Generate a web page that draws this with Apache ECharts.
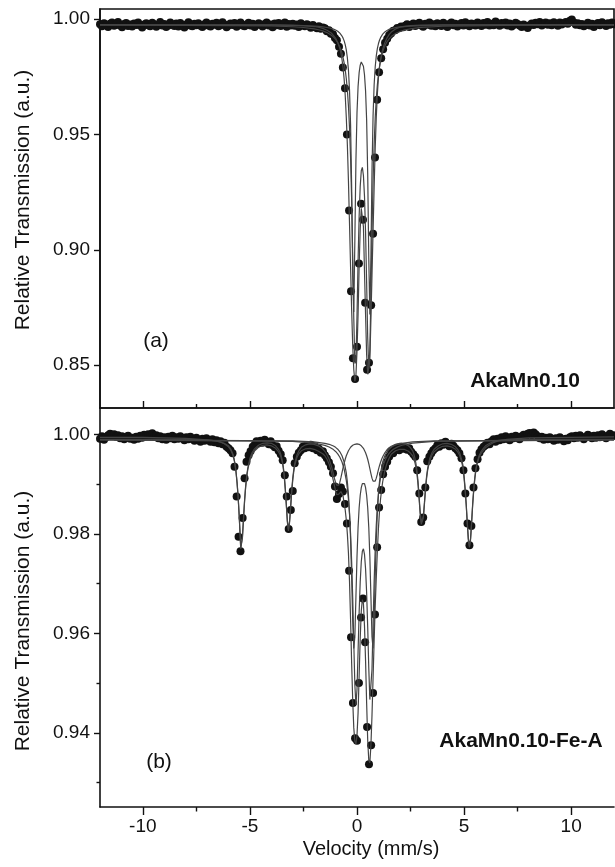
<!DOCTYPE html>
<html><head><meta charset="utf-8">
<script src="https://cdn.jsdelivr.net/npm/echarts@6/dist/echarts.min.js"></script>
<style>html,body{margin:0;padding:0;background:#fff}#chart{width:615px;height:867px}</style>
</head><body><div id="chart"></div>
<script>
// channel velocities (mm/s)
const velocity = [
-12,-11.91,-11.81,-11.72,-11.62,-11.53,-11.44,-11.34,
-11.25,-11.16,-11.06,-10.97,-10.87,-10.78,-10.69,-10.59,
-10.5,-10.41,-10.31,-10.22,-10.12,-10.03,-9.94,-9.84,
-9.75,-9.66,-9.56,-9.47,-9.37,-9.28,-9.19,-9.09,
-9,-8.91,-8.81,-8.72,-8.62,-8.53,-8.44,-8.34,
-8.25,-8.16,-8.06,-7.97,-7.87,-7.78,-7.69,-7.59,
-7.5,-7.41,-7.31,-7.22,-7.12,-7.03,-6.94,-6.84,
-6.75,-6.66,-6.56,-6.47,-6.37,-6.28,-6.19,-6.09,
-6,-5.91,-5.81,-5.72,-5.62,-5.53,-5.44,-5.34,
-5.25,-5.16,-5.06,-4.97,-4.87,-4.78,-4.69,-4.59,
-4.5,-4.41,-4.31,-4.22,-4.12,-4.03,-3.94,-3.84,
-3.75,-3.66,-3.56,-3.47,-3.37,-3.28,-3.19,-3.09,
-3,-2.91,-2.81,-2.72,-2.62,-2.53,-2.44,-2.34,
-2.25,-2.16,-2.06,-1.97,-1.87,-1.78,-1.69,-1.59,
-1.5,-1.41,-1.31,-1.22,-1.12,-1.03,-0.94,-0.84,
-0.75,-0.66,-0.56,-0.47,-0.37,-0.28,-0.19,-0.09,
0,0.09,0.19,0.28,0.38,0.47,0.56,0.66,
0.75,0.84,0.94,1.03,1.13,1.22,1.31,1.41,
1.5,1.59,1.69,1.78,1.88,1.97,2.06,2.16,
2.25,2.34,2.44,2.53,2.63,2.72,2.81,2.91,
3,3.09,3.19,3.28,3.38,3.47,3.56,3.66,
3.75,3.84,3.94,4.03,4.13,4.22,4.31,4.41,
4.5,4.59,4.69,4.78,4.88,4.97,5.06,5.16,
5.25,5.34,5.44,5.53,5.63,5.72,5.81,5.91,
6,6.09,6.19,6.28,6.38,6.47,6.56,6.66,
6.75,6.84,6.94,7.03,7.13,7.22,7.31,7.41,
7.5,7.59,7.69,7.78,7.88,7.97,8.06,8.16,
8.25,8.34,8.44,8.53,8.63,8.72,8.81,8.91,
9,9.09,9.19,9.28,9.38,9.47,9.56,9.66,
9.75,9.84,9.94,10.03,10.13,10.22,10.31,10.41,
10.5,10.59,10.69,10.78,10.88,10.97,11.06,11.16,
11.25,11.34,11.44,11.53,11.63,11.72,11.81,11.91,
12];

// (a) AkaMn0.10 measured transmission
const transmissionA = [
0.9978,0.9969,0.9982,0.9974,0.9966,0.9980,0.9985,0.9971,
0.9976,0.9988,0.9973,0.9965,0.9979,0.9983,0.9970,0.9977,
0.9968,0.9981,0.9975,0.9986,0.9972,0.9964,0.9977,0.9982,
0.9974,0.9969,0.9984,0.9978,0.9967,0.9975,0.9988,0.9972,
0.9979,0.9966,0.9973,0.9985,0.9976,0.9970,0.9981,0.9968,
0.9983,0.9975,0.9964,0.9977,0.9987,0.9972,0.9969,0.9980,
0.9974,0.9982,0.9971,0.9966,0.9978,0.9985,0.9973,0.9968,
0.9980,0.9976,0.9984,0.9969,0.9974,0.9987,0.9977,0.9965,
0.9972,0.9981,0.9975,0.9983,0.9967,0.9978,0.9986,0.9973,
0.9969,0.9977,0.9984,0.9972,0.9980,0.9966,0.9975,0.9982,
0.9976,0.9968,0.9979,0.9986,0.9973,0.9977,0.9965,0.9981,
0.9974,0.9983,0.9970,0.9976,0.9985,0.9967,0.9979,0.9972,
0.9980,0.9971,0.9977,0.9966,0.9982,0.9974,0.9969,0.9978,
0.9972,0.9963,0.9975,0.9966,0.9960,0.9969,0.9958,0.9964,
0.9960,0.9948,0.9952,0.9937,0.9935,0.9918,0.9908,0.9880,
0.9850,0.9790,0.9700,0.9500,0.9170,0.8820,0.8530,0.8440,
0.8580,0.8940,0.9200,0.9130,0.8770,0.8480,0.8510,0.8760,
0.9070,0.9400,0.9650,0.9770,0.9830,0.9870,0.9898,0.9915,
0.9930,0.9938,0.9950,0.9952,0.9962,0.9960,0.9968,0.9965,
0.9971,0.9978,0.9966,0.9975,0.9981,0.9970,0.9977,0.9984,
0.9973,0.9967,0.9980,0.9976,0.9985,0.9971,0.9978,0.9969,
0.9982,0.9975,0.9970,0.9984,0.9977,0.9966,0.9979,0.9986,
0.9974,0.9980,0.9968,0.9977,0.9983,0.9972,0.9987,0.9976,
0.9969,0.9981,0.9978,0.9973,0.9985,0.9977,0.9970,0.9983,
0.9976,0.9988,0.9972,0.9980,0.9974,0.9990,0.9979,0.9971,
0.9983,0.9977,0.9986,0.9973,0.9981,0.9968,0.9975,0.9984,
0.9979,0.9972,0.9966,0.9977,0.9970,0.9962,0.9974,0.9981,
0.9975,0.9984,0.9978,0.9988,0.9973,0.9980,0.9986,0.9976,
0.9982,0.9974,0.9987,0.9979,0.9971,0.9985,0.9977,0.9983,
0.9988,0.9980,0.9993,0.9998,0.9985,0.9976,0.9982,0.9974,
0.9979,0.9969,0.9975,0.9984,0.9972,0.9980,0.9966,0.9977,
0.9983,0.9974,0.9987,0.9979,0.9970,0.9982,0.9976,0.9985,
0.9978];

// (b) AkaMn0.10-Fe-A measured transmission
const transmissionB = [
0.9991,0.9996,0.9989,0.9994,0.9998,1.0001,0.9997,1.0000,
0.9995,0.9998,0.9992,0.9996,0.9990,0.9994,0.9997,0.9991,
0.9993,0.9989,0.9995,0.9991,0.9997,0.9993,0.9999,0.9996,
1.0000,0.9997,1.0002,0.9995,0.9998,0.9992,0.9996,0.9990,
0.9994,0.9989,0.9995,0.9992,0.9997,0.9990,0.9994,0.9991,
0.9996,0.9992,0.9988,0.9994,0.9990,0.9995,0.9991,0.9987,
0.9993,0.9989,0.9985,0.9991,0.9987,0.9992,0.9988,0.9985,
0.9990,0.9984,0.9988,0.9982,0.9986,0.9980,0.9983,0.9975,
0.9972,0.9968,0.9962,0.9935,0.9875,0.9794,0.9765,0.9832,
0.9912,0.9945,0.9958,0.9966,0.9975,0.9979,0.9986,0.9982,
0.9987,0.9983,0.9989,0.9984,0.9980,0.9986,0.9978,0.9974,
0.9976,0.9967,0.9960,0.9948,0.9918,0.9875,0.9810,0.9848,
0.9886,0.9942,0.9955,0.9963,0.9968,0.9975,0.9972,0.9978,
0.9974,0.9979,0.9972,0.9976,0.9968,0.9971,0.9963,0.9966,
0.9958,0.9952,0.9944,0.9935,0.9922,0.9895,0.9870,0.9880,
0.9893,0.9885,0.9860,0.9821,0.9726,0.9592,0.9460,0.9389,
0.9384,0.9500,0.9632,0.9670,0.9582,0.9412,0.9337,0.9375,
0.9480,0.9638,0.9773,0.9853,0.9888,0.9920,0.9935,0.9945,
0.9955,0.9966,0.9962,0.9970,0.9973,0.9968,0.9975,0.9971,
0.9974,0.9969,0.9972,0.9965,0.9960,0.9955,0.9928,0.9881,
0.9824,0.9833,0.9893,0.9946,0.9955,0.9962,0.9968,0.9972,
0.9978,0.9975,0.9982,0.9979,0.9985,0.9980,0.9976,0.9981,
0.9977,0.9972,0.9968,0.9962,0.9952,0.9928,0.9881,0.9821,
0.9777,0.9816,0.9893,0.9932,0.9950,0.9963,0.9970,0.9975,
0.9978,0.9983,0.9980,0.9986,0.9990,0.9985,0.9991,0.9988,
0.9994,0.9990,0.9996,0.9991,0.9988,0.9995,0.9992,0.9997,
0.9993,0.9990,0.9996,0.9999,0.9995,1.0001,1.0003,0.9998,
1.0004,1.0000,0.9996,0.9992,0.9995,0.9989,0.9993,0.9990,
0.9994,0.9991,0.9987,0.9992,0.9989,0.9994,0.9990,0.9986,
0.9991,0.9988,0.9994,0.9996,0.9992,0.9997,0.9993,0.9998,
0.9994,0.9990,0.9995,0.9999,0.9996,0.9992,0.9997,0.9993,
0.9998,0.9994,1.0000,0.9996,0.9992,0.9997,1.0001,0.9996,
0.9998];

// (a) fitted curves
const fitVelocityA = [
-12,-4,-3,-2.5,-2,-1.8,-1.6,-1.4,-1.2,-1.1,
-1.0,-0.9,-0.8,-0.75,-0.7,-0.65,-0.6,-0.55,-0.5,-0.45,
-0.4,-0.35,-0.3,-0.25,-0.2,-0.15,-0.1,-0.05,0,0.05,
0.1,0.15,0.2,0.25,0.3,0.35,0.4,0.45,0.5,0.55,
0.6,0.65,0.7,0.75,0.8,0.85,0.9,0.95,1.0,1.05,
1.1,1.15,1.2,1.25,1.3,1.4,1.5,1.6,1.8,2.0,
2.2,2.5,3,4,8,12];
const fitTotalA = [
0.9975,0.9975,0.9974,0.9972,0.9968,0.9965,0.9960,0.9952,0.9940,0.9930,
0.9918,0.9898,0.9872,0.9852,0.9825,0.9788,0.9740,0.9670,0.9575,0.9455,
0.9300,0.9115,0.8925,0.8740,0.8585,0.8480,0.8430,0.8455,0.8560,0.8720,
0.8930,0.9090,0.9180,0.9185,0.9100,0.8905,0.8720,0.8545,0.8460,0.8455,
0.8520,0.8700,0.8890,0.9080,0.9270,0.9440,0.9575,0.9675,0.9745,0.9792,
0.9825,0.9850,0.9870,0.9885,0.9898,0.9918,0.9933,0.9944,0.9957,0.9965,
0.9969,0.9972,0.9974,0.9975,0.9975,0.9975];
const fitDoublet1A = [
0.9975,0.9974,0.99725,0.99715,0.99695,0.99683,0.99665,0.99639,0.99598,0.99569,
0.99529,0.99475,0.99393,0.99338,0.99268,0.99177,0.99058,0.98895,0.98666,0.98326,
0.97801,0.96934,0.95427,0.92757,0.88914,0.87307,0.90426,0.93876,0.95946,0.97073,
0.97683,0.98004,0.9814,0.98125,0.97958,0.9759,0.96898,0.95626,0.93298,0.8963,
0.8719,0.89685,0.93411,0.95803,0.97148,0.97927,0.98406,0.98719,0.98932,0.99084,
0.99197,0.99283,0.9935,0.99403,0.99445,0.99509,0.99555,0.99588,0.99633,0.99661,
0.9968,0.99698,0.99717,0.99738,0.9975,0.9975];
const fitDoublet2A = [
0.9975,0.99704,0.9967,0.99638,0.99579,0.99541,0.9949,0.99417,0.99305,0.99226,
0.99124,0.98986,0.98795,0.98671,0.98521,0.98335,0.98104,0.9781,0.97427,0.96923,
0.96243,0.95304,0.93989,0.92159,0.8974,0.87021,0.85075,0.85162,0.87107,0.89516,
0.91466,0.9275,0.93426,0.93576,0.93222,0.92315,0.90766,0.88575,0.86192,0.84847,
0.85662,0.88095,0.9077,0.92961,0.94569,0.95718,0.96541,0.97143,0.97593,0.97937,
0.98203,0.98416,0.98585,0.98725,0.9884,0.99016,0.99147,0.99245,0.99379,0.99466,
0.99525,0.99583,0.99641,0.99693,0.99737,0.9975];

// (b) fitted curves: total and sextet
const fitVelocityB = [
-12,-10,-8,-7,-6.6,-6.4,-6.2,-6.0,-5.9,-5.8,
-5.75,-5.7,-5.65,-5.6,-5.55,-5.5,-5.45,-5.43,-5.4,-5.35,
-5.3,-5.25,-5.2,-5.15,-5.1,-5.0,-4.9,-4.8,-4.6,-4.4,
-4.2,-4.0,-3.8,-3.7,-3.6,-3.55,-3.5,-3.45,-3.4,-3.35,
-3.3,-3.25,-3.2,-3.15,-3.1,-3.05,-3.0,-2.95,-2.9,-2.8,
-2.7,-2.6,-2.4,-2.2,-2.0,-1.8,-1.6,-1.5,-1.4,-1.3,
-1.2,-1.15,-1.1,-1.05,-1.0,-0.95,-0.9,-0.85,-0.8,-0.75,
-0.7,-0.65,-0.6,-0.55,-0.5,-0.45,-0.4,-0.35,-0.3,-0.25,
-0.2,-0.15,-0.1,-0.05,0,0.05,0.1,0.15,0.2,0.25,
0.3,0.35,0.4,0.45,0.5,0.55,0.6,0.65,0.7,0.75,
0.8,0.85,0.9,0.95,1.0,1.05,1.1,1.15,1.2,1.3,
1.4,1.5,1.6,1.8,2.0,2.2,2.4,2.5,2.6,2.65,
2.7,2.75,2.8,2.85,2.9,2.95,3.0,3.03,3.05,3.1,
3.15,3.2,3.25,3.3,3.4,3.5,3.6,3.8,4.0,4.2,
4.4,4.6,4.7,4.8,4.9,4.95,5.0,5.05,5.1,5.15,
5.2,5.25,5.3,5.35,5.4,5.45,5.5,5.55,5.6,5.7,
5.8,5.9,6.0,6.2,6.4,6.6,7,8,10,12];
const fitTotalB = [
0.9994,0.9994,0.9992,0.9989,0.9987,0.9985,0.9981,0.9975,0.9969,0.9959,
0.9951,0.9940,0.9924,0.9902,0.9873,0.9835,0.9790,0.9770,0.9768,0.9792,
0.9829,0.9865,0.9893,0.9914,0.9929,0.9948,0.9959,0.9966,0.9974,0.9978,
0.9979,0.9977,0.9972,0.9967,0.9960,0.9954,0.9946,0.9934,0.9916,0.9890,
0.9857,0.9823,0.9806,0.9822,0.9851,0.9883,0.9908,0.9926,0.9939,0.9954,
0.9962,0.9967,0.9971,0.9972,0.9970,0.9966,0.9961,0.9957,0.9950,0.9940,
0.9926,0.9916,0.9906,0.9896,0.9886,0.9879,0.9877,0.9880,0.9884,0.9885,
0.9883,0.9876,0.9862,0.9848,0.9828,0.9800,0.9762,0.9705,0.9628,0.9540,
0.9465,0.9410,0.9383,0.9378,0.9395,0.9440,0.9515,0.9590,0.9645,0.9668,
0.9660,0.9615,0.9545,0.9460,0.9385,0.9345,0.9340,0.9375,0.9435,0.9510,
0.9585,0.9655,0.9712,0.9765,0.9810,0.9845,0.9870,0.9889,0.9905,0.9927,
0.9942,0.9952,0.9960,0.9967,0.9970,0.9970,0.9966,0.9962,0.9957,0.9951,
0.9944,0.9934,0.9920,0.9899,0.9870,0.9840,0.9819,0.9815,0.9816,0.9832,
0.9860,0.9889,0.9912,0.9928,0.9947,0.9958,0.9965,0.9972,0.9976,0.9977,
0.9975,0.9970,0.9965,0.9957,0.9942,0.9932,0.9912,0.9887,0.9857,0.9820,
0.9787,0.9773,0.9787,0.9820,0.9857,0.9887,0.9910,0.9927,0.9939,0.9954,
0.9962,0.9968,0.9973,0.9979,0.9984,0.9987,0.9990,0.9993,0.9994,0.9995];
const fitSextetB = [
0.9990,0.9990,0.9990,0.9989,0.9987,0.9985,0.9982,0.9977,0.9971,0.9961,
0.9953,0.9942,0.9926,0.9904,0.9875,0.9837,0.9792,0.9772,0.9770,0.9794,
0.9831,0.9867,0.9896,0.9917,0.9932,0.9952,0.9963,0.9970,0.9978,0.9982,
0.9983,0.9982,0.9977,0.9972,0.9965,0.9959,0.9950,0.9938,0.9920,0.9893,
0.9860,0.9826,0.9809,0.9825,0.9855,0.9887,0.9912,0.9930,0.9943,0.9959,
0.9968,0.9974,0.9979,0.9981,0.9980,0.9977,0.9971,0.9966,0.9959,0.9950,
0.9937,0.9929,0.9920,0.9911,0.9903,0.9898,0.9896,0.9898,0.9904,0.9913,
0.9923,0.9933,0.9942,0.9950,0.9957,0.9962,0.9967,0.9971,0.9974,0.9976,
0.9978,0.9979,0.9980,0.9981,0.9981,0.9981,0.9980,0.9979,0.9977,0.9975,
0.9972,0.9968,0.9963,0.9957,0.9950,0.9941,0.9931,0.9921,0.9912,0.9906,
0.9904,0.9906,0.9912,0.9920,0.9929,0.9937,0.9944,0.9950,0.9955,0.9963,
0.9969,0.9973,0.9976,0.9980,0.9982,0.9981,0.9977,0.9973,0.9967,0.9961,
0.9953,0.9942,0.9927,0.9905,0.9875,0.9845,0.9823,0.9819,0.9820,0.9836,
0.9864,0.9893,0.9916,0.9932,0.9952,0.9963,0.9970,0.9977,0.9981,0.9982,
0.9980,0.9975,0.9970,0.9962,0.9947,0.9937,0.9916,0.9891,0.9860,0.9823,
0.9790,0.9776,0.9790,0.9823,0.9860,0.9890,0.9913,0.9930,0.9942,0.9957,
0.9966,0.9972,0.9977,0.9982,0.9986,0.9988,0.9989,0.9990,0.9990,0.9990];

// (b) fitted curves: doublets
const doubletVelocityB = [
-12,-3,-2,-1.5,-1.3,-1.1,-1.0,-0.9,-0.8,-0.7,
-0.6,-0.5,-0.45,-0.4,-0.35,-0.3,-0.25,-0.2,-0.15,-0.1,
-0.05,0,0.05,0.1,0.15,0.2,0.25,0.3,0.35,0.4,
0.45,0.5,0.55,0.6,0.65,0.7,0.75,0.8,0.85,0.9,
0.95,1.0,1.05,1.1,1.2,1.3,1.4,1.5,1.6,1.7,
1.9,2.1,2.6,3.6,12];
const fitDoublet1B = [
0.9989,0.9987,0.9985,0.9982,0.9980,0.99765,0.99739,0.99702,0.9965,0.99571,
0.99446,0.99224,0.99047,0.98795,0.98428,0.97888,0.97133,0.96254,0.95695,0.95933,
0.96734,0.97539,0.98131,0.98524,0.98776,0.98928,0.9901,0.99037,0.9901,0.98928,
0.98776,0.98524,0.98131,0.97539,0.96734,0.95933,0.95695,0.96254,0.97133,0.97888,
0.98428,0.98795,0.99047,0.99224,0.99446,0.99571,0.9965,0.99702,0.99739,0.99765,
0.9980,0.9982,0.9985,0.9987,0.9989];
const fitDoublet2B = [
0.9989,0.99859,0.99824,0.99778,0.99745,0.99694,0.99657,0.99607,0.9954,0.99444,
0.99301,0.99076,0.98915,0.98697,0.98402,0.98004,0.97449,0.96715,0.95817,0.94963,
0.94562,0.94873,0.95631,0.96423,0.97035,0.9744,0.9765,0.9770,0.9759,0.9730,
0.96815,0.96121,0.95302,0.94669,0.9464,0.95272,0.96189,0.9703,0.97692,0.98177,
0.98533,0.98792,0.98985,0.9913,0.99335,0.99466,0.99555,0.99618,0.99664,0.997,
0.99749,0.99781,0.99825,0.9986,0.9989];

// tick values
const xTicks = [-10, -5, 0, 5, 10];
const xMinorTicks = [-7.5, -2.5, 2.5, 7.5];
const yTicksA = [0.85, 0.90, 0.95, 1.00];
const yTicksB = [0.94, 0.96, 0.98, 1.00];
const yMinorTicksB = [0.93, 0.95, 0.97, 0.99];

const pairs = (xs, ys) => xs.map((x, i) => [x, ys[i]]);
const FONT = '"Liberation Sans", Arial, Helvetica, sans-serif';
const INK = '#111';
const LINE = '#444';

const chart = echarts.init(document.getElementById('chart'), null, {renderer: 'canvas'});

function xAxisDef(grid, major, showLabels, inside, len, ticks) {
  return {
    gridIndex: grid, type: 'value', min: -12, max: 12, position: 'bottom',
    axisLine: {show: major, onZero: false, lineStyle: {color: INK, width: 1.6}},
    axisTick: {show: true, inside: inside, length: len, customValues: ticks, lineStyle: {color: INK, width: 1.4}},
    axisLabel: {show: showLabels, customValues: ticks, margin: 10, color: INK, fontSize: 19, fontFamily: FONT},
    splitLine: {show: false}
  };
}
function yAxisDef(grid, min, max, major, ticks, len) {
  return {
    gridIndex: grid, type: 'value', min: min, max: max, position: 'left',
    axisLine: {show: major, onZero: false, lineStyle: {color: INK, width: 1.6}},
    axisTick: {show: true, inside: false, length: len, customValues: ticks, lineStyle: {color: INK, width: 1.4}},
    axisLabel: {show: major, customValues: ticks, margin: 10, color: INK, fontSize: 19, fontFamily: FONT,
      formatter: v => Number(v).toFixed(2)},
    splitLine: {show: false}
  };
}
function lineSeries(xi, yi, xs, ys) {
  return {type: 'line', xAxisIndex: xi, yAxisIndex: yi, data: pairs(xs, ys), symbol: 'none', showSymbol: false,
    lineStyle: {color: LINE, width: 1.2, opacity: 1}, z: 4, silent: true, clip: true};
}
function dotSeries(xi, yi, ys) {
  return {type: 'scatter', xAxisIndex: xi, yAxisIndex: yi, data: pairs(velocity, ys), symbol: 'circle', symbolSize: 8,
    itemStyle: {color: '#111', opacity: 1}, z: 3, silent: true, clip: true};
}

chart.setOption({
  animation: false,
  backgroundColor: '#fff',
  grid: [
    {left: 100, top: 9, width: 514, height: 399, show: true, borderColor: INK, borderWidth: 1.6, backgroundColor: 'transparent'},
    {left: 100, top: 408, width: 514, height: 399}
  ],
  xAxis: [
    xAxisDef(0, true, false, true, 7, xTicks),
    xAxisDef(0, false, false, true, 4, xMinorTicks),
    xAxisDef(1, true, true, false, 8, xTicks),
    xAxisDef(1, false, false, false, 4.5, xMinorTicks)
  ],
  yAxis: [
    yAxisDef(0, 0.8314, 1.0044, true, yTicksA, 6),
    yAxisDef(1, 0.9251, 1.0053, true, yTicksB, 6),
    yAxisDef(1, 0.9251, 1.0053, false, yMinorTicksB, 3.5)
  ],
  series: [
    dotSeries(0, 0, transmissionA),
    lineSeries(0, 0, fitVelocityA, fitDoublet1A),
    lineSeries(0, 0, fitVelocityA, fitDoublet2A),
    lineSeries(0, 0, fitVelocityA, fitTotalA),
    dotSeries(2, 1, transmissionB),
    lineSeries(2, 1, fitVelocityB, fitSextetB),
    lineSeries(2, 1, doubletVelocityB, fitDoublet1B),
    lineSeries(2, 1, doubletVelocityB, fitDoublet2B),
    lineSeries(2, 1, fitVelocityB, fitTotalB)
  ],
  graphic: [
    {type: 'text', x: 23, y: 200, rotation: Math.PI / 2,
      style: {text: 'Relative Transmission (a.u.)', font: '21px ' + FONT, fill: INK, align: 'center', verticalAlign: 'middle'}},
    {type: 'text', x: 23, y: 621, rotation: Math.PI / 2,
      style: {text: 'Relative Transmission (a.u.)', font: '21px ' + FONT, fill: INK, align: 'center', verticalAlign: 'middle'}},
    {type: 'text', x: 371, y: 849,
      style: {text: 'Velocity (mm/s)', font: '20px ' + FONT, fill: INK, align: 'center', verticalAlign: 'middle'}},
    {type: 'text', x: 156, y: 341,
      style: {text: '(a)', font: '21px ' + FONT, fill: INK, align: 'center', verticalAlign: 'middle'}},
    {type: 'text', x: 159, y: 762,
      style: {text: '(b)', font: '21px ' + FONT, fill: INK, align: 'center', verticalAlign: 'middle'}},
    {type: 'text', x: 525, y: 381,
      style: {text: 'AkaMn0.10', font: 'bold 21px ' + FONT, fill: INK, align: 'center', verticalAlign: 'middle'}},
    {type: 'text', x: 521, y: 741,
      style: {text: 'AkaMn0.10-Fe-A', font: 'bold 21px ' + FONT, fill: INK, align: 'center', verticalAlign: 'middle'}}
  ]
});
</script>
</body></html>
